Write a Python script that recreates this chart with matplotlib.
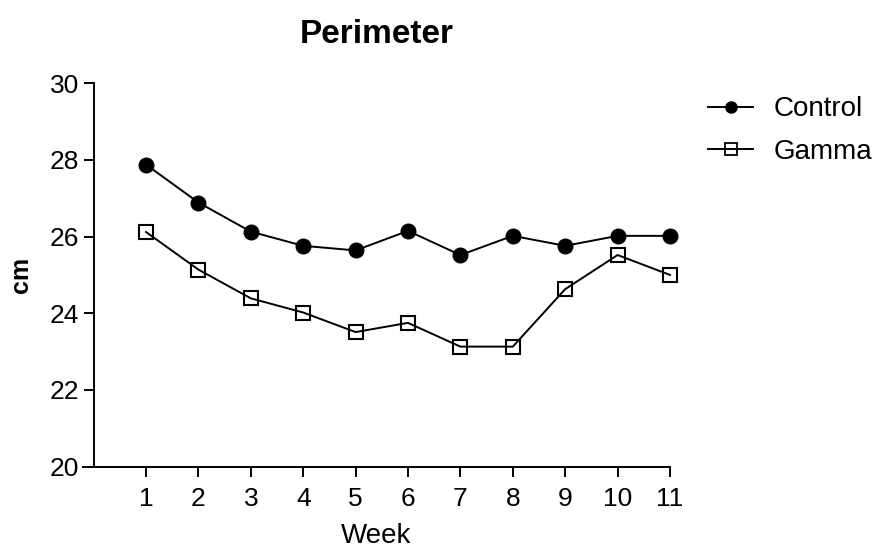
import matplotlib
matplotlib.use("Agg")
import matplotlib.pyplot as plt
from matplotlib.lines import Line2D

weeks = [1, 2, 3, 4, 5, 6, 7, 8, 9, 10, 11]
control = [27.88, 26.89, 26.13, 25.76, 25.64, 26.15, 25.52, 26.02, 25.76, 26.02, 26.02]
gamma = [26.12, 25.14, 24.39, 24.02, 23.51, 23.75, 23.13, 23.13, 24.63, 25.52, 25.00]
yticks = [20, 22, 24, 26, 28, 30]

plt.rcParams['font.family'] = ['Liberation Sans', 'DejaVu Sans']

fig = plt.figure(figsize=(8.81, 5.52), dpi=100)
ax = fig.add_axes([83/881, 1-466.6/552, (670-83)/881, (466.6-83.3)/552])

ax.plot(weeks, control, color='black', lw=1.4, marker='o', ms=10.5,
        mfc='black', mec='black', label='Control', clip_on=False, zorder=3)
ax.plot(weeks, gamma, color='black', lw=1.4, marker='s', ms=10,
        mfc='none', mec='black', mew=1.5, label='Gamma', clip_on=False, zorder=3)

x0 = 1 - (146 - 83) / 52.4
ax.set_xlim(x0, 11)
ax.set_ylim(20, 30)
ax.set_xticks(weeks)
ax.set_yticks(yticks)
ax.spines['top'].set_visible(False)
ax.spines['right'].set_visible(False)
ax.spines['left'].set_position(('data', 0.0))
for s in ('left', 'bottom'):
    ax.spines[s].set_linewidth(1.4)
ax.tick_params(axis='both', direction='out', length=7.5, width=1.4, labelsize=19, pad=3)
ax.tick_params(axis='x', pad=7)
ax.set_xlabel('Week', fontsize=20, labelpad=9)
ax.set_ylabel('cm', fontsize=18, fontweight='bold', labelpad=12)
ax.set_title('Perimeter', fontsize=24, fontweight='bold', pad=29)

handles = [
    Line2D([], [], color='black', lw=1.4, marker='o', ms=8, mfc='black', mec='black'),
    Line2D([], [], color='black', lw=1.4, marker='s', ms=8, mfc='none', mec='black', mew=1.3),
]
fig.legend(handles, ['Control', 'Gamma'], loc='upper left', bbox_to_anchor=(700/881, 1-88/552),
           frameon=False, fontsize=20, handlelength=1.6, handletextpad=0.75, labelspacing=0.6,
           borderaxespad=0, borderpad=0.3)

fig.savefig('out.png', dpi=100)
